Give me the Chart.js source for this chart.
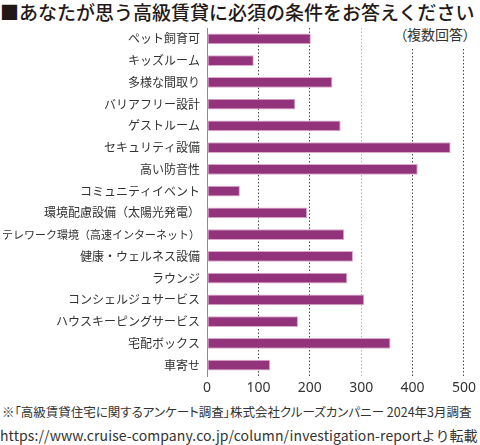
<!DOCTYPE html>
<html lang="ja">
<head>
<meta charset="UTF-8" />
<title>あなたが思う高級賃貸に必須の条件</title>
<script src="https://cdn.jsdelivr.net/npm/chart.js"></script>
<style>
  html, body { margin: 0; padding: 0; background: #fff; }
  body { width: 480px; height: 445px; position: relative; overflow: hidden;
         font-family: "Noto Sans CJK JP", "Noto Sans", sans-serif; color: #231815; }
  .title { position: absolute; left: 0; top: 0; font-size: 19px; line-height: 24px;
           font-weight: 500; white-space: nowrap; }
  .note { position: absolute; left: 400px; top: 24px; font-size: 14px; line-height: 20px;
          background: #fff; padding: 0 2px 3px 0; color: #333; font-feature-settings: "palt"; }
  .wrap { position: absolute; left: 0; top: 0; width: 480px; height: 400px; }
  .foot { position: absolute; left: 0; line-height: 20px; white-space: nowrap; color: #333; }
</style>
</head>
<body>
  <div class="title">■あなたが思う高級賃貸に必須の条件をお答えください</div>
  <div class="wrap"><canvas id="chart"></canvas></div>
  <div class="note">（複数回答）</div>
  <div class="foot" style="top:402px; left:2px; font-size:12.5px; font-feature-settings:'palt'">※「高級賃貸住宅に関するアンケート調査」株式会社クルーズカンパニー 2024年3月調査</div>
  <div class="foot" style="top:425px; font-size:14px; letter-spacing:0.1px">https://www.cruise-company.co.jp/column/investigation-reportより転載</div>

<script>
  // 項目
  const categories = [
    'ペット飼育可', 'キッズルーム', '多様な間取り', 'バリアフリー設計', 'ゲストルーム',
    'セキュリティ設備', '高い防音性', 'コミュニティイベント', '環境配慮設備（太陽光発電）',
    'テレワーク環境（高速インターネット）', '健康・ウェルネス設備', 'ラウンジ',
    'コンシェルジュサービス', 'ハウスキーピングサービス', '宅配ボックス', '車寄せ'
  ];
  // 回答数
  const answers = [202, 91, 244, 172, 260, 474, 410, 64, 195, 267, 284, 273, 306, 177, 357, 123];
  const xTicks = [0, 100, 200, 300, 400, 500];

  const ctx = document.getElementById('chart').getContext('2d');
  new Chart(ctx, {
    type: 'bar',
    data: {
      labels: categories,
      datasets: [{
        data: answers,
        backgroundColor: '#92337b',
        borderColor: '#dcaacb',
        borderWidth: 1,
        borderSkipped: false,
        barPercentage: 0.5,
        categoryPercentage: 1
      }]
    },
    options: {
      indexAxis: 'y',
      responsive: true,
      maintainAspectRatio: false,
      animation: false,
      layout: { padding: { top: 28, right: 13, left: 0, bottom: 0 } },
      plugins: { legend: { display: false }, tooltip: { enabled: false } },
      scales: {
        x: {
          min: 0, max: 500,
          afterBuildTicks: s => { s.ticks = xTicks.map(v => ({ value: v })); },
          afterFit: s => { s.height = 24; },
          ticks: { color: '#333', padding: 4, font: { family: 'Noto Sans', size: 14 } },
          grid: {
            drawTicks: false,
            lineWidth: 1,
            color: c => c.tick && c.tick.value === 0 ? 'rgba(0,0,0,0)'
                      : (c.tick && c.tick.value === 300 ? '#b5b5b5' : '#4a4a4a')
          },
          border: { display: false, dash: [1.5, 2] }
        },
        y: {
          afterFit: s => { s.width = 207; },
          ticks: {
            color: '#333', padding: 7,
            // 長いラベルだけ少し小さく
            font: c => ({ family: 'Noto Sans CJK JP', size: String(categories[c.index]).length > 16 ? 11 : 12 })
          },
          grid: { display: false, drawTicks: false },
          border: { display: true, color: '#8a8a8a', width: 1 }
        }
      }
    }
  });
</script>
</body>
</html>
